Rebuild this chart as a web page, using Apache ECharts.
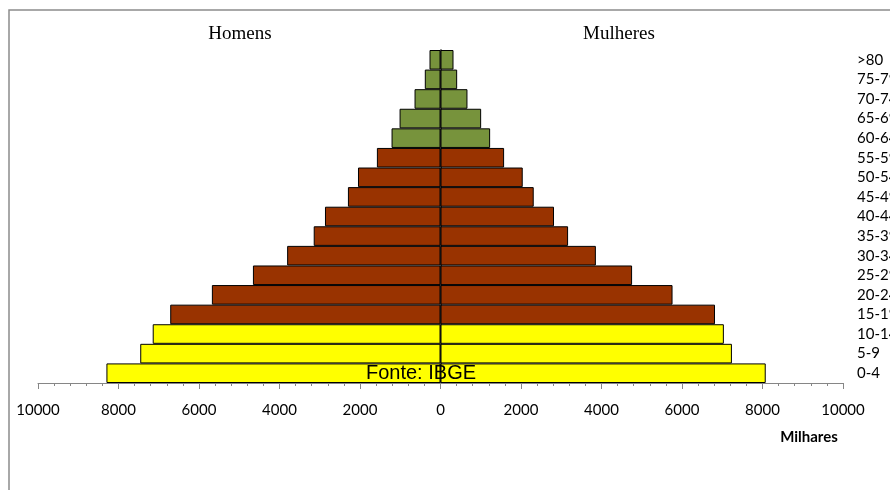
<!DOCTYPE html>
<html>
<head>
<meta charset="utf-8">
<script src="https://cdn.jsdelivr.net/npm/echarts@6/dist/echarts.min.js"></script>
<style>
  html, body { margin: 0; padding: 0; background: #fff; }
  #chart { width: 890px; height: 490px; }
</style>
</head>
<body>
<div id="chart"></div>
<script>
// faixas etárias, de baixo para cima
var faixas = ["0-4", "5-9", "10-14", "15-19", "20-24", "25-29", "30-34", "35-39",
  "40-44", "45-49", "50-54", "55-59", "60-64", "65-69", "70-74", "75-79", ">80"];
// milhares de pessoas
var homens = [8300, 7460, 7150, 6715, 5680, 4660, 3810, 3150,
  2870, 2300, 2050, 1580, 1216, 1017, 645, 390, 273];
var mulheres = [8080, 7240, 7040, 6820, 5765, 4760, 3860, 3170,
  2820, 2316, 2043, 1580, 1233, 1010, 670, 414, 323];

function cor(i) {
  if (i <= 2) return "#FFFF00";
  if (i <= 11) return "#993300";
  return "#77933C";
}

var chart = echarts.init(document.getElementById("chart"));

var option = {
  animation: false,
  grid: { left: 38, right: 47, top: 50, bottom: 107, outerBoundsMode: "none", containLabel: false },
  xAxis: {
    type: "value",
    min: -10000,
    max: 10000,
    interval: 2000,
    splitLine: { show: false },
    axisLine: { show: true, lineStyle: { color: "#868686", width: 1 } },
    axisTick: { show: true, length: 6, lineStyle: { color: "#868686" } },
    minorTick: { show: true, splitNumber: 5, length: 3, lineStyle: { color: "#868686" } },
    axisLabel: {
      margin: 20,
      color: "#000",
      fontFamily: "Lato",
      fontSize: 15,
      formatter: function (v) { return Math.abs(v); }
    }
  },
  yAxis: [
    {
      type: "category",
      data: faixas,
      axisLine: { show: true, onZero: true, lineStyle: { color: "#000", width: 1.5 } },
      axisTick: { show: false },
      axisLabel: { show: false }
    },
    {
      type: "category",
      data: faixas,
      position: "right",
      axisLine: { show: false, onZero: false },
      axisTick: { show: false },
      axisLabel: {
        show: true,
        margin: 14,
        align: "left",
        padding: [3, 0, 0, 0],
        color: "#000",
        fontFamily: "Lato",
        fontSize: 15
      }
    }
  ],
  series: [
    {
      name: "Homens",
      type: "bar",
      stack: "pop",
      barCategoryGap: "0%",
      data: homens.map(function (v) { return -v; }),
      itemStyle: {
        color: function (p) { return cor(p.dataIndex); },
        borderColor: "#000",
        borderWidth: 1
      }
    },
    {
      name: "Mulheres",
      type: "bar",
      stack: "pop",
      barCategoryGap: "0%",
      data: mulheres,
      itemStyle: {
        color: function (p) { return cor(p.dataIndex); },
        borderColor: "#000",
        borderWidth: 1
      }
    }
  ],
  graphic: [
    {
      type: "rect",
      shape: { x: 9, y: 10, width: 1000, height: 1000 },
      style: { fill: "none", stroke: "#8c8c8c", lineWidth: 1.5 },
      silent: true
    },
    {
      type: "text",
      x: 240, y: 34,
      style: { text: "Homens", fontFamily: "Liberation Serif", fontSize: 19, fill: "#000", align: "center", verticalAlign: "middle" }
    },
    {
      type: "text",
      x: 619, y: 34,
      style: { text: "Mulheres", fontFamily: "Liberation Serif", fontSize: 19, fill: "#000", align: "center", verticalAlign: "middle" }
    },
    {
      type: "text",
      x: 421, y: 373, z: 100,
      style: { text: "Fonte: IBGE", fontFamily: "Liberation Sans", fontSize: 20, fill: "#000", align: "center", verticalAlign: "middle" }
    },
    {
      type: "text",
      x: 809, y: 437,
      style: { text: "Milhares", fontFamily: "Lato", fontWeight: "bold", fontSize: 15, fill: "#000", align: "center", verticalAlign: "middle" }
    }
  ]
};

chart.setOption(option);
</script>
</body>
</html>
